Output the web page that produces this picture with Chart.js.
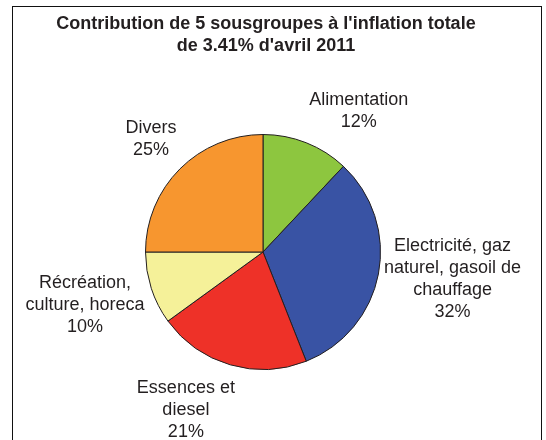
<!DOCTYPE html>
<html>
<head>
<meta charset="utf-8">
<script src="https://cdn.jsdelivr.net/npm/chart.js@4"></script>
<style>
	body { margin: 0; background: #fff; }
	#frame { position: absolute; left: 12px; top: 6px; width: 528px; height: 500px; border: 1px solid #111; }
	#chart { position: absolute; left: 0; top: 0; }
</style>
</head>
<body>
<div id="frame"></div>
<canvas id="chart" width="546" height="440"></canvas>
<script>
// clockwise from 12 o'clock
var labels = [
	["Alimentation"],
	["Electricité, gaz", "naturel, gasoil de", "chauffage"],
	["Essences et", "diesel"],
	["Récréation,", "culture, horeca"],
	["Divers"]
];
var shares = [12, 32, 21, 10, 25];
var colors = ["#8dc63f", "#3953a4", "#ee3128", "#f5f199", "#f7962f"];
var titleLines = ["Contribution de 5 sousgroupes à l'inflation totale", "de 3.41% d'avril 2011"];

// small tweaks so labels sit like the original (Excel best fit)
var labelNudge = [[36, 10], [-6, -10], [-30, -4], [3, -6], [-1, -2]];

var FONT = "'Liberation Sans', Arial, sans-serif";
var LINE = 22;
var INK = "#231f20";

var textLayer = {
	id: "textLayer",
	afterDraw: function(chart) {
		var ctx = chart.ctx;
		ctx.save();
		ctx.fillStyle = INK;
		ctx.textAlign = "center";
		ctx.textBaseline = "middle";

		// title, centred over the frame
		ctx.font = "bold 18px " + FONT;
		titleLines.forEach(function(t, k) {
			ctx.fillText(t, 266, 24 + k * LINE);
		});

		// slice labels outside the pie
		ctx.font = "18px " + FONT;
		var arcs = chart.getDatasetMeta(0).data;
		arcs.forEach(function(arc, i) {
			var lines = labels[i].concat([shares[i] + "%"]);
			var w = 0;
			lines.forEach(function(l) { w = Math.max(w, ctx.measureText(l).width); });
			var h = lines.length * LINE;
			var mid = (arc.startAngle + arc.endAngle) / 2;
			var dx = Math.cos(mid), dy = Math.sin(mid);
			var ext = Math.abs(dx) * w / 2 + Math.abs(dy) * h / 2;
			var d = arc.outerRadius + 6 + ext;
			var cx = arc.x + dx * d + labelNudge[i][0];
			var cy = arc.y + dy * d + labelNudge[i][1];
			lines.forEach(function(l, k) {
				ctx.fillText(l, cx, cy - h / 2 + LINE / 2 + k * LINE);
			});
		});
		ctx.restore();
	}
};

new Chart("chart", {
	type: "pie",
	data: {
		labels: labels.map(function(l) { return l.join(" "); }),
		datasets: [{
			data: shares,
			backgroundColor: colors,
			borderColor: INK,
			borderWidth: 1
		}]
	},
	options: {
		responsive: false,
		animation: false,
		layout: { padding: { top: 134, left: 145, right: 165, bottom: 70 } },
		plugins: {
			legend: { display: false },
			tooltip: { enabled: false },
			title: { display: false }
		}
	},
	plugins: [textLayer]
});
</script>
</body>
</html>
